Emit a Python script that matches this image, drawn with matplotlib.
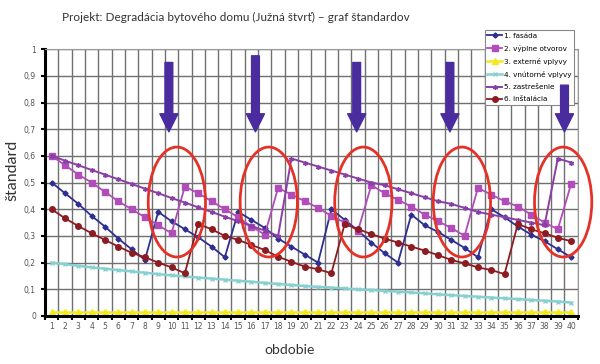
import matplotlib
matplotlib.use("Agg")
import matplotlib.pyplot as plt
from matplotlib.patches import Ellipse

# obdobia 1..40
obdobie = list(range(1, 41))

fasada = [0.50, 0.46, 0.42, 0.375, 0.335, 0.29, 0.25, 0.21,
          0.39, 0.355, 0.325, 0.295, 0.26, 0.22,
          0.39, 0.36, 0.33, 0.29, 0.26, 0.23, 0.20,
          0.40, 0.36, 0.32, 0.275, 0.235, 0.20,
          0.38, 0.34, 0.315, 0.285, 0.255, 0.22,
          0.40, 0.37, 0.335, 0.305, 0.28, 0.25, 0.22]
vyplne = [0.60, 0.565, 0.53, 0.50, 0.465, 0.43, 0.40, 0.37, 0.34, 0.31,
          0.485, 0.46, 0.43, 0.40, 0.37, 0.335, 0.305,
          0.48, 0.455, 0.43, 0.405, 0.375, 0.35, 0.32,
          0.49, 0.46, 0.435, 0.41, 0.38, 0.355, 0.33, 0.30,
          0.48, 0.455, 0.43, 0.41, 0.38, 0.35, 0.325,
          0.495]
externe = [0.015, 0.015, 0.015, 0.015, 0.015, 0.015, 0.015, 0.015, 0.015, 0.015,
           0.015, 0.015, 0.015, 0.015, 0.015, 0.015, 0.015, 0.015, 0.015, 0.015,
           0.015, 0.015, 0.015, 0.015, 0.015, 0.015, 0.015, 0.015, 0.015, 0.015,
           0.015, 0.015, 0.015, 0.015, 0.015, 0.015, 0.015, 0.015, 0.015, 0.015]
vnutorne = [0.200, 0.194, 0.188, 0.182, 0.177, 0.172, 0.167, 0.162, 0.157, 0.152,
            0.148, 0.144, 0.140, 0.136, 0.132, 0.128, 0.124, 0.120, 0.116, 0.112,
            0.109, 0.106, 0.103, 0.100, 0.097, 0.094, 0.091, 0.088, 0.085, 0.081,
            0.078, 0.075, 0.072, 0.069, 0.066, 0.063, 0.060, 0.057, 0.054, 0.050]
zastresenie = [0.60, 0.582, 0.565, 0.547, 0.53, 0.512, 0.495, 0.477, 0.46, 0.442,
               0.425, 0.407, 0.39, 0.372, 0.355, 0.337, 0.32, 0.30,
               0.59, 0.575, 0.56, 0.545, 0.53, 0.515, 0.50, 0.49, 0.475, 0.46,
               0.445, 0.43, 0.42, 0.405, 0.39, 0.38, 0.37, 0.36, 0.35, 0.34,
               0.59, 0.575]
instalacia = [0.40, 0.366, 0.337, 0.31, 0.285, 0.26, 0.237, 0.22, 0.20, 0.182, 0.16,
              0.345, 0.325, 0.30, 0.285, 0.266, 0.247, 0.222, 0.203, 0.185, 0.175, 0.16,
              0.345, 0.325, 0.307, 0.29, 0.275, 0.26, 0.245, 0.228, 0.21, 0.197,
              0.182, 0.172, 0.157,
              0.345, 0.325, 0.31, 0.293, 0.28]

# vyznacene obdobia (sipky a elipsy)
sipky_x = [9.8, 16.3, 23.9, 30.9, 39.5]
sipky_hore = [0.95, 0.975, 0.95, 0.95, 0.865]
elipsy_x = [10.4, 17.3, 24.4, 31.8, 39.4]

fig = plt.figure(figsize=(6.0, 3.64), dpi=100)
ax = fig.add_axes([0.075, 0.132, 0.888, 0.733])

ax.plot(obdobie, fasada, color='#2E2F8F', lw=1.3, marker='D', ms=2.6, label='1. fasáda')
ax.plot(obdobie, vyplne, color='#B04DB8', lw=1.3, marker='s', ms=4.3, label='2. výplne otvorov')
ax.plot(obdobie, externe, color='#F2EA1C', lw=1.8, marker='^', ms=4, label='3. externé vplyvy')
ax.plot(obdobie, vnutorne, color='#86D0D2', lw=1.8, marker='x', ms=3, label='4. vnútorné vplyvy')
ax.plot(obdobie, zastresenie, color='#8A3FA6', lw=1.4, marker=(6, 2, 0), ms=3.5, label='5. zastrešenie')
ax.plot(obdobie, instalacia, color='#8C1C22', lw=1.3, marker='o', ms=4.0, label='6. inštalácia')

leg = ax.legend(loc='upper right', bbox_to_anchor=(578 / 600, 1 - 26 / 364),
                bbox_transform=fig.transFigure, fontsize=5.2,
                frameon=True, fancybox=False, edgecolor='#888888', framealpha=1,
                handlelength=2.0, handletextpad=0.3, labelspacing=0.85, borderpad=0.4)
leg.get_frame().set_linewidth(0.8)
leg.set_zorder(5)

for x, y0 in zip(sipky_x, sipky_hore):
    ax.annotate('', xy=(x, 0.69), xytext=(x, y0),
                arrowprops=dict(arrowstyle='simple,head_length=0.65,head_width=0.65,tail_width=0.28',
                                mutation_scale=20, color='#4A2C9E', shrinkA=0, shrinkB=0),
                annotation_clip=False, zorder=7)

for x in elipsy_x:
    ax.add_patch(Ellipse((x, 0.427), 4.3, 0.412, fill=False, ec='#E53228', lw=2.0,
                         clip_on=False, zorder=6))

ax.set_xlim(0.5, 40.5)
ax.set_ylim(0, 1)
ax.set_xticks([i + 0.5 for i in range(0, 41)])
ax.set_xticklabels([])
ax.set_xticks(obdobie, minor=True)
ax.set_xticklabels([str(i) for i in obdobie], minor=True)
ax.tick_params(axis='x', which='major', length=3, width=1.5, color='black')
ax.tick_params(axis='x', which='minor', length=0, labelsize=5.5, labelcolor='#555555', pad=4)
ax.set_yticks([i / 10 for i in range(11)])
ax.set_yticklabels(['0', '0,1', '0,2', '0,3', '0,4', '0,5', '0,6', '0,7', '0,8', '0,9', '1'])
ax.tick_params(axis='y', length=3, width=1.5, color='black', labelsize=5.5, labelcolor='#555555')

ax.grid(True, which='major', color='#707070', lw=1.0)
ax.set_axisbelow(True)
for side in ['left', 'bottom']:
    ax.spines[side].set_linewidth(2.2)
    ax.spines[side].set_color('black')
for side in ['top', 'right']:
    ax.spines[side].set_color('#999999')
    ax.spines[side].set_linewidth(0.8)

fig.text(62 / 600, 1 - 17 / 364, 'Projekt: Degradácia bytového domu (Južná štvrť) – graf štandardov',
         ha='left', va='center', fontsize=8.5, color='#333333', family='Lato')
fig.text(12 / 600, 1 - 170 / 364, 'štandard', rotation=90, ha='center', va='center',
         fontsize=11.5, color='#333333', family='Lato')
fig.text(290 / 600, 1 - 350 / 364, 'obdobie', ha='center', va='center',
         fontsize=10, color='#333333', family='Lato')

fig.savefig('out.png', dpi=100)
